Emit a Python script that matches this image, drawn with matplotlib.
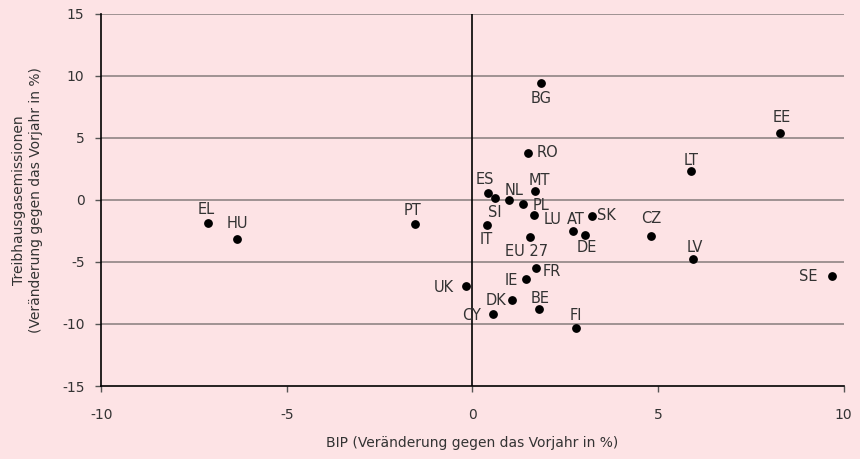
import numpy as np
import matplotlib
matplotlib.use('Agg')
import matplotlib.pyplot as plt

# Länder, BIP-Veränderung (x), Treibhausgas-Veränderung (y)
countries = ['BG', 'RO', 'ES', 'SI', 'IT', 'NL', 'PL', 'MT', 'LU', 'AT', 'SK', 'DE', 'CZ',
             'EU 27', 'PT', 'FR', 'IE', 'UK', 'DK', 'BE', 'CY', 'FI', 'EE', 'LT', 'LV',
             'SE', 'EL', 'HU']
gdp = [1.85, 1.49, 0.42, 0.61, 0.38, 0.99, 1.37, 1.68, 1.66, 2.71, 3.23, 3.04, 4.82,
       1.56, -1.56, 1.70, 1.43, -0.17, 1.06, 1.79, 0.54, 2.79, 8.29, 5.88, 5.95,
       9.68, -7.12, -6.35]
ghg = [9.40, 3.80, 0.54, 0.16, -2.03, -0.02, -0.32, 0.70, -1.23, -2.55, -1.29, -2.84, -2.89,
       -2.97, -1.95, -5.46, -6.40, -6.93, -8.09, -8.76, -9.21, -10.36, 5.41, 2.31, -4.80,
       -6.16, -1.90, -3.19]

# Beschriftungs-Versatz in Pixel (dx, dy nach oben), Ausrichtung
label_pos = {
    'BG': (0, -15, 'center'), 'RO': (9, 0, 'left'), 'ES': (-3, 14, 'center'),
    'SI': (0, -15, 'center'), 'IT': (0, -15, 'center'), 'NL': (5, 10, 'center'),
    'PL': (9, -2, 'left'), 'MT': (5, 11, 'center'), 'LU': (10, -4, 'left'),
    'AT': (3, 12, 'center'), 'SK': (5, 0, 'left'), 'DE': (1, -12, 'center'),
    'CZ': (0, 17, 'center'), 'EU 27': (-4, -15, 'center'), 'PT': (-2, 13, 'center'),
    'FR': (7, -4, 'left'), 'IE': (-8, -1, 'right'), 'UK': (-12, -2, 'right'),
    'DK': (-5, 0, 'right'), 'BE': (1, 10, 'center'), 'CY': (-12, -1, 'right'),
    'FI': (0, 13, 'center'), 'EE': (1, 15, 'center'), 'LT': (0, 11, 'center'),
    'LV': (1, 12, 'center'), 'SE': (-14, 0, 'right'), 'EL': (-2, 14, 'center'),
    'HU': (1, 16, 'center'),
}

bg = '#FDE3E5'
plt.rcParams['font.family'] = ['DejaVu Sans']
plt.rcParams['axes.unicode_minus'] = False

fig = plt.figure(figsize=(8.6, 4.59), dpi=100, facecolor=bg)
ax = fig.add_axes([0.1177, 0.159, 0.8634, 0.8115])
ax.set_facecolor(bg)

ax.set_xlim(-10, 10)
ax.set_ylim(-15, 15)
ax.set_xticks(np.arange(-10, 11, 5))
ax.set_yticks(np.arange(-15, 16, 5))

# horizontale Gitterlinien
for yv in [-10, -5, 0, 5, 10, 15]:
    ax.axhline(yv, color='#857c7c', lw=1.1, zorder=1)
ax.axvline(0, color='black', lw=1.2, zorder=2)

for s in ['top', 'right']:
    ax.spines[s].set_visible(False)
for s in ['left', 'bottom']:
    ax.spines[s].set_color('black')
    ax.spines[s].set_linewidth(1.2)

ax.tick_params(axis='both', direction='out', length=4, width=1, color='#555555',
               labelsize=10, labelcolor='#333333')
ax.tick_params(axis='x', pad=12)
ax.tick_params(axis='y', pad=8)

ax.scatter(gdp, ghg, s=28, color='black', zorder=3)

for c, x, y in zip(countries, gdp, ghg):
    dx, dy, ha = label_pos[c]
    ax.annotate(c, (x, y), xytext=(dx * 0.72, dy * 0.72), textcoords='offset points',
                ha=ha, va='center', fontsize=10.5, color='#333333', zorder=4)

ax.set_xlabel('BIP (Veränderung gegen das Vorjahr in %)', fontsize=10, color='#333333',
              labelpad=10)
ax.set_ylabel('Treibhausgasemissionen\n(Veränderung gegen das Vorjahr in %)', fontsize=10,
              color='#333333', labelpad=14)

fig.savefig('out.png', dpi=100, facecolor=bg)
